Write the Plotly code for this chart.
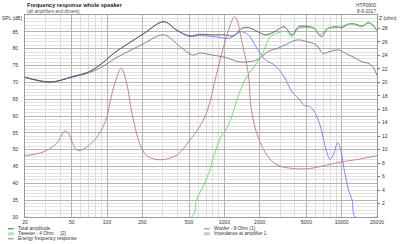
import plotly.graph_objects as go

# ---------------- data ----------------
total_f = [20, 33, 51, 71, 91, 114, 161, 208, 305, 394, 508, 616, 788, 1025, 1200, 1400, 1600,
           1936, 2256, 2665, 3225, 3776, 4296, 5330, 5866, 6700, 7620, 8930, 10140, 11440,
           13080, 14860, 16780, 18460, 20000]
total_db = [71.5, 70.1, 71.7, 73.2, 75.7, 78.6, 82.1, 84.6, 88.0, 85.5, 83.8, 84.3, 84.1, 84.1, 83.8,
            86.0, 86.3, 85.0, 84.1, 85.0, 86.5, 84.1, 86.5, 86.5, 86.0, 83.6, 86.0, 86.5, 86.3, 87.3,
            87.3, 86.7, 87.7, 87.0, 85.3]

energy_f = [20, 33, 51, 71, 91, 117, 161, 208, 305, 420, 538, 616, 788, 1025, 1321, 1600, 1936,
            2345, 2838, 3436, 3860, 4296, 5034, 6096, 6920, 7816, 9460, 10810, 13080, 14860,
            16780, 18460, 20000]
energy_db = [71.5, 70.1, 71.6, 72.9, 74.6, 77.1, 79.6, 81.6, 84.1, 80.6, 78.1, 78.7, 78.1, 77.4,
             76.1, 76.1, 76.8, 79.1, 80.1, 81.4, 82.3, 82.6, 82.1, 81.1, 78.6, 79.1, 79.6, 78.6,
             77.2, 76.1, 75.7, 74.6, 72.0]

woofer_f = [20, 33, 51, 71, 91, 114, 161, 208, 305, 394, 508, 616, 788, 902, 1092, 1400, 1600,
            1936, 2256, 2665, 3225, 3776, 4400, 4725, 5330, 5720, 6455, 7380, 7960, 8600, 9220,
            9820, 10400, 11440, 12280, 13080, 20000]
woofer_db = [71.5, 70.1, 71.7, 73.2, 75.7, 78.6, 82.1, 84.6, 88.0, 85.4, 83.6, 83.9, 83.6, 83.4,
             83.1, 85.0, 84.1, 79.6, 76.6, 75.2, 71.7, 67.2, 64.8, 63.3, 62.8, 61.8, 57.9, 49.9,
             47.1, 49.0, 52.1, 49.9, 44.9, 38.0, 35.0, 30.0, 30.0]

tweeter_f = [20, 525, 578, 700, 846, 931, 1025, 1156, 1280, 1500, 2050, 2480, 2838, 3436, 3776,
             4296, 5330, 5866, 6455, 7620, 9460, 11440, 13080, 14860, 16780, 18460, 20000]
tweeter_db = [30.0, 30.0, 35.0, 41.0, 49.9, 53.8, 55.8, 59.8, 64.8, 70.7, 77.6, 83.6, 84.7, 85.0,
              83.6, 86.0, 86.3, 85.9, 84.1, 86.0, 86.3, 87.3, 87.1, 86.5, 87.6, 86.9, 85.2]

imp_f = [20, 29, 37, 44, 47, 56, 71, 88, 100, 107, 117, 132, 147, 156, 161, 195, 222, 286, 394,
         508, 616, 720, 846, 1025, 1170, 1220, 1280, 1400, 1600, 1700, 1936, 2345, 2838, 3900,
         5330, 7380, 10140, 13080, 20000]
imp_ohm = [9.1, 9.7, 10.9, 12.8, 12.4, 9.9, 10.7, 12.7, 14.9, 17.4, 19.9, 22.1, 19.9, 17.4, 15.9,
           10.4, 9.0, 8.5, 9.2, 11.4, 13.4, 15.9, 20.8, 26.3, 29.3, 29.8, 29.3, 26.3, 21.3, 15.9,
           11.9, 9.0, 7.7, 7.2, 7.2, 7.7, 8.2, 8.5, 9.1]

x_ticks = [20, 50, 100, 200, 500, 1000, 2000, 5000, 10000, 20000]
x_minor = [m * d for d in (10, 100, 1000) for m in (3, 4, 6, 7, 8, 9)]
spl_ticks = [30, 35, 40, 45, 50, 55, 60, 65, 70, 75, 80, 85]
ohm_ticks = [2, 4, 6, 8, 10, 12, 14, 16, 18, 20, 22, 24, 26, 28]

legend_items = [
    ("Total amplitude", "#555555", 1, 0),
    ("Tweeter - 4 Ohm     [2]", "#a8eca8", 3, 0),
    ("Energy frequency response", "#777777", 1, 0),
    ("Woofer - 8 Ohm (1)", "#7878f0", 1, 1),
    ("Impedance at amplifier 1", "#eab8b8", 3, 1),
]

# ---------------- figure ----------------
W, H = 400, 244
L, R, T, B = 21, 18, 15, 27
PW, PH = W - L - R, H - T - B
FONT = "Liberation Sans, Arial, sans-serif"


def px(xp):
    return (xp - L) / PW


def py(yp):
    return (H - B - yp) / PH


fig = go.Figure()
fig.add_trace(go.Scatter(x=imp_f, y=imp_ohm, yaxis="y2", mode="lines", line_shape="spline",
                         line=dict(color="#c07c7c", width=0.9), name="Impedance at amplifier 1"))
fig.add_trace(go.Scatter(x=energy_f, y=energy_db, mode="lines", line_shape="spline",
                         line=dict(color="#777777", width=0.9), name="Energy frequency response"))
fig.add_trace(go.Scatter(x=woofer_f, y=woofer_db, mode="lines", line_shape="spline",
                         line=dict(color="#7878f0", width=0.9), name="Woofer - 8 Ohm (1)"))
fig.add_trace(go.Scatter(x=total_f, y=total_db, mode="lines", line_shape="spline",
                         line=dict(color="#555555", width=0.9), name="Total amplitude"))
fig.add_trace(go.Scatter(x=tweeter_f, y=tweeter_db, mode="lines", line_shape="spline",
                         line=dict(color="#6cd86c", width=0.9), name="Tweeter - 4 Ohm [2]"))

tick_font = dict(family=FONT, size=5, color="#333333")
fig.update_layout(
    width=W, height=H, margin=dict(l=L, r=R, t=T, b=B),
    paper_bgcolor="white", plot_bgcolor="white", showlegend=False,
    xaxis=dict(type="log", range=[1.30103, 4.30103], tickvals=x_ticks,
               ticktext=[str(v) for v in x_ticks], tickfont=tick_font,
               showgrid=True, gridcolor="#b4b4b4", gridwidth=1,
               minor=dict(tickvals=x_minor, showgrid=True, gridcolor="#dcdcdc", gridwidth=1),
               showline=True, linecolor="#9a9a9a", linewidth=1, mirror=True,
               ticks="", zeroline=False, ticklabelstandoff=0),
    yaxis=dict(range=[30, 90], tickvals=spl_ticks, ticktext=[str(v) for v in spl_ticks],
               tickfont=tick_font, showgrid=True, gridcolor="#b4b4b4", gridwidth=1,
               minor=dict(dtick=1, showgrid=True, gridcolor="#e2e2e2", gridwidth=1),
               showline=True, linecolor="#9a9a9a", linewidth=1, mirror=True,
               ticks="", zeroline=False, ticklabelstandoff=5),
    yaxis2=dict(range=[0, 30], overlaying="y", side="right", tickvals=ohm_ticks,
                ticktext=[str(v) for v in ohm_ticks], tickfont=tick_font, showgrid=False,
                ticks="outside", ticklen=2, tickcolor="#777777", zeroline=False,
                showline=False, ticklabelstandoff=1),
)

annots = [
    dict(text="<b>Frequency response whole speaker</b>", x=px(20.5), y=py(5.5), xanchor="left",
         yanchor="middle", font=dict(family=FONT, size=5.6, color="#222222")),
    dict(text="(all amplifiers and drivers)", x=px(20.5), y=py(11.8), xanchor="left",
         yanchor="middle", font=dict(family=FONT, size=4.6, color="#555555")),
    dict(text="HTP0800", x=px(384), y=py(5.7), xanchor="right", yanchor="middle",
         font=dict(family=FONT, size=4.8, color="#444444")),
    dict(text="8-9-2017", x=px(384), y=py(11.7), xanchor="right", yanchor="middle",
         font=dict(family=FONT, size=4.8, color="#444444")),
    dict(text="SPL (dB)", x=px(20), y=py(18.3), xanchor="right", yanchor="middle",
         font=dict(family=FONT, size=5, color="#333333")),
    dict(text="Z (ohm)", x=px(382.5), y=py(18.3), xanchor="left", yanchor="middle",
         font=dict(family=FONT, size=5, color="#333333")),
]
shapes = []
row_y = [228.8, 233.8, 238.8]
col_x = [(3.5, 9.5, 11.5), (204.5, 210.5, 212.5)]
rows = [0, 0, 0]
for label, color, width, col in legend_items:
    r = rows[col]
    rows[col] += 1
    x0, x1, xt = col_x[col]
    yy = row_y[r]
    shapes.append(dict(type="line", xref="paper", yref="paper", x0=px(x0), x1=px(x1),
                       y0=py(yy), y1=py(yy), line=dict(color=color, width=width)))
    annots.append(dict(text=label, x=px(xt), y=py(yy), xanchor="left", yanchor="middle",
                       font=dict(family=FONT, size=4.8, color="#333333")))

for a in annots:
    a.update(xref="paper", yref="paper", showarrow=False)
fig.update_layout(annotations=annots, shapes=shapes)

fig.write_html("out.html")
